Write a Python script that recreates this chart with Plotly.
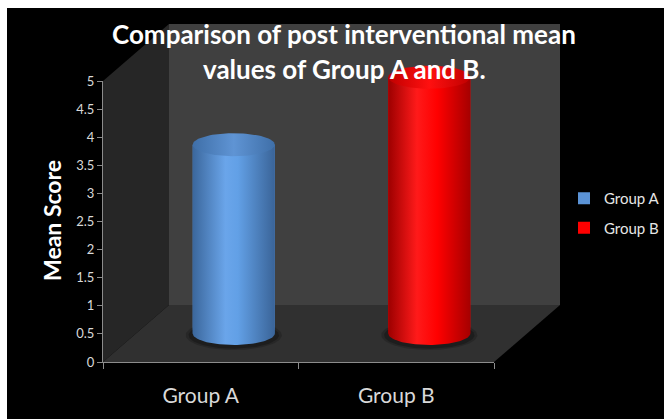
import numpy as np
import plotly.graph_objects as go

# ---- data ----
categories = ["Group A", "Group B"]
mean_scores = [3.36, 4.56]
series_colors = ["#5b93d6", "#ff0000"]
y_ticks = [0, 0.5, 1, 1.5, 2, 2.5, 3, 3.5, 4, 4.5, 5]
y_tick_labels = ["0", "0.5", "1", "1.5", "2", "2.5", "3", "3.5", "4", "4.5", "5"]
title_lines = ["Comparison of post interventional mean", "values of Group A and B."]
y_title = "Mean Score"

W, H = 664, 419
def fx(p): return p / W
def fy(p): return 1 - p / H

# front plane geometry (pixels)
X0, X1, Y0, Y5 = 103, 494, 362, 81
DX, DY = 66, -57           # full depth offset
MX, MY = DX / 2, DY / 2    # bar depth offset
px_per_unit = (Y0 - Y5) / 5.0
Y2_MIN = -0.5              # extra room below zero for the cylinder bottoms

fig = go.Figure()

xs = list(range(len(categories)))
rx = 0.21
ry = 11.5 / px_per_unit
t = np.linspace(0, 2 * np.pi, 90)

body_scales = [
    [[0, "#3b679c"], [0.4, "#6aa5ea"], [0.55, "#62a0e6"], [1, "#3a6498"]],
    [[0, "#9c0000"], [0.35, "#ff1a1a"], [0.6, "#ff0000"], [1, "#a50000"]],
]
top_scales = [
    [[0, "#3f6fa8"], [0.5, "#5f94d4"], [1, "#3f6fa8"]],
    [[0, "#c00000"], [0.5, "#ff1010"], [1, "#c00000"]],
]

# invisible trace so the front (category/value) axes render
fig.add_trace(go.Scatter(x=xs, y=[0] * len(xs), mode="markers", marker=dict(opacity=0),
                         hoverinfo="skip", showlegend=False, xaxis="x", yaxis="y"))

for i, (cat, v, col) in enumerate(zip(categories, mean_scores, series_colors)):
    fig.add_trace(go.Bar(x=[xs[i]], y=[v], width=2 * rx, marker=dict(color=col, line=dict(width=0)),
                         name=cat, legendgroup=cat, xaxis="x2", yaxis="y2", showlegend=True))

for i, (cat, v, col) in enumerate(zip(categories, mean_scores, series_colors)):
    xc = xs[i]
    # soft floor shadow
    for k, a in [(0.06, 0.18), (0.035, 0.25)]:
        fig.add_trace(go.Scatter(x=xc + (rx + k * 0.6) * np.cos(t), y=-0.03 + (ry + k) * np.sin(t),
                                 mode="lines", fill="toself", fillcolor=f"rgba(0,0,0,{a})",
                                 line=dict(width=0), hoverinfo="skip", showlegend=False,
                                 xaxis="x2", yaxis="y2"))
    # body: rectangle + bottom half ellipse
    tb = np.linspace(np.pi, 2 * np.pi, 60)
    bx = list(xc + rx * np.cos(tb)) + [xc + rx, xc - rx]
    by = list(ry * np.sin(tb)) + [v, v]
    fig.add_trace(go.Scatter(x=bx, y=by, mode="lines", fill="toself",
                             fillgradient=dict(type="horizontal", colorscale=body_scales[i]),
                             line=dict(width=0), hoverinfo="skip", showlegend=False,
                             xaxis="x2", yaxis="y2"))
    # top ellipse
    fig.add_trace(go.Scatter(x=xc + rx * np.cos(t), y=v + ry * np.sin(t), mode="lines", fill="toself",
                             fillgradient=dict(type="horizontal", colorscale=top_scales[i]),
                             line=dict(width=0), hoverinfo="skip", showlegend=False,
                             xaxis="x2", yaxis="y2"))

# background + 3D box decoration
shapes = [dict(type="rect", xref="paper", yref="paper", x0=fx(7), x1=1, y0=0, y1=fy(8),
               fillcolor="#000000", line=dict(width=0), layer="below")]
def poly(pts, color):
    d = "M " + " L ".join(f"{fx(a)},{fy(b)}" for a, b in pts) + " Z"
    return dict(type="path", path=d, xref="paper", yref="paper", fillcolor=color,
                line=dict(width=0), layer="below")

shapes.append(poly([(X0 + DX, Y5 + DY), (X1 + DX, Y5 + DY), (X1 + DX, Y0 + DY), (X0 + DX, Y0 + DY)], "#404040"))
shapes.append(poly([(X0, Y5), (X0 + DX, Y5 + DY), (X0 + DX, Y0 + DY), (X0, Y0)], "#262626"))
shapes.append(poly([(X0, Y0), (X1, Y0), (X1 + DX, Y0 + DY), (X0 + DX, Y0 + DY)], "#303030"))

annotations = [
    dict(text=f"<b>{title_lines[0]}</b>", x=fx(344), y=fy(34), xref="paper", yref="paper",
         xanchor="center", yanchor="middle", showarrow=False,
         font=dict(size=26, color="#ffffff", family="Lato, sans-serif")),
    dict(text=f"<b>{title_lines[1]}</b>", x=fx(344), y=fy(69), xref="paper", yref="paper",
         xanchor="center", yanchor="middle", showarrow=False,
         font=dict(size=26, color="#ffffff", family="Lato, sans-serif")),
    dict(text=f"<b>{y_title}</b>", x=fx(52), y=fy(221), xref="paper", yref="paper",
         xanchor="center", yanchor="middle", textangle=-90, showarrow=False,
         font=dict(size=23, color="#ffffff", family="Lato, sans-serif")),
]

fig.update_layout(
    width=W, height=H,
    margin=dict(l=0, r=0, t=0, b=0, autoexpand=False),
    paper_bgcolor="#ffffff", plot_bgcolor="rgba(0,0,0,0)",
    font=dict(family="Lato, Open Sans, sans-serif", color="#d9d9d9"),
    shapes=shapes,
    annotations=annotations,
    barmode="overlay",
    showlegend=True,
    legend=dict(x=fx(564), y=fy(182), xanchor="left", yanchor="top",
                font=dict(size=15, color="#e6e6e6"), bgcolor="rgba(0,0,0,0)",
                tracegroupgap=7, itemclick=False),
    xaxis=dict(domain=[fx(X0), fx(X1)], range=[-0.5, 1.5], tickvals=xs, ticktext=categories,
               showline=True, linecolor="#8c8c8c", linewidth=1, ticks="", showgrid=False,
               zeroline=False, tickfont=dict(size=21, color="#d9d9d9"),
               minor=dict(tickvals=[-0.5, 0.5, 1.5], ticks="outside", ticklen=6,
                          tickcolor="#8c8c8c", showgrid=False),
               ticklabelstandoff=15, fixedrange=True, automargin=False),
    yaxis=dict(domain=[fy(Y0), fy(Y5)], range=[0, 5], tickvals=y_ticks, ticktext=y_tick_labels,
               showline=True, linecolor="#8c8c8c", linewidth=1, ticks="outside", ticklen=5,
               tickcolor="#8c8c8c", showgrid=False, zeroline=False,
               tickfont=dict(size=13, color="#d9d9d9"), fixedrange=True, automargin=False),
    xaxis2=dict(domain=[fx(X0 + MX), fx(X1 + MX)], range=[-0.5, 1.5], visible=False,
                anchor="y2", fixedrange=True),
    yaxis2=dict(domain=[fy(Y0 + MY - Y2_MIN * px_per_unit), fy(Y5 + MY)], range=[Y2_MIN, 5],
                visible=False, anchor="x2", fixedrange=True),
)

fig.write_html("out.html")
